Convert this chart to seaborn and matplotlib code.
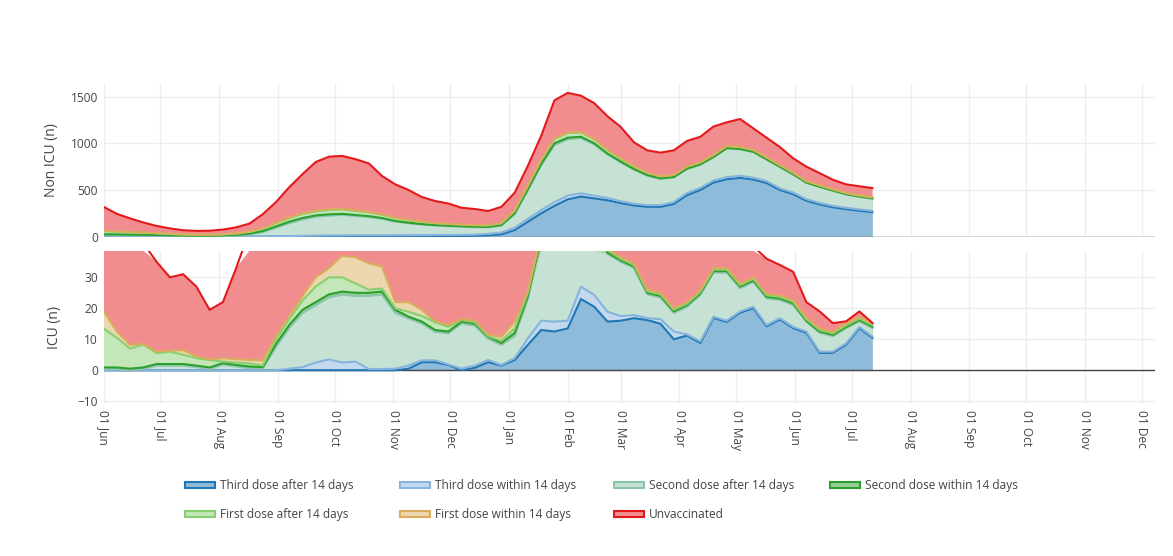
import numpy as np
import pandas as pd
import seaborn as sns
import matplotlib
matplotlib.use("Agg")
from matplotlib import pyplot as plt
from matplotlib import dates as mdates
from matplotlib.patches import Patch
from matplotlib.colors import to_rgb

# weekly readings, 01 Jun 2021 -> 12 Jul 2022
dates = pd.date_range("2021-06-01", periods=59, freq="7D")

# Non ICU (n), one value per layer of the stack
nonicu_third_after = [0] * 13 + [1, 1, 1, 1] + [2, 2, 3, 3, 3, 4, 4, 5, 6, 7, 8, 10] + [
    15, 25, 70, 160, 250, 330, 400, 430, 410, 390, 360, 335, 320, 320, 350, 445, 500, 580,
    615, 630, 612, 575, 500, 455, 385, 346, 315, 295, 278, 262]
nonicu_third_within = [0] * 13 + [3, 5, 8, 10] + [12] * 12 + [
    15, 20, 25, 30, 35, 40, 40, 35, 30, 25, 20, 18, 18, 18, 20, 22, 22, 22, 22, 22,
    20, 20, 18, 18, 16, 16, 15, 15, 14, 14]
nonicu_second_after = [
    22, 21, 19, 17, 16, 13, 10, 8, 8, 11, 16, 26, 50,
    92, 138, 175, 202, 211, 219, 207, 196, 177, 145, 128, 112, 102, 94, 87, 80,
    70, 74, 145, 306, 477, 612, 604, 591, 548, 465, 416, 364, 315, 281, 264, 257, 247, 247,
    307, 282, 273, 230, 227, 192, 175, 170, 161, 141, 134, 130]
nonicu_second_within = [3, 3, 3, 3, 2, 2, 2, 2, 2, 3, 4, 6, 10, 14, 16, 16, 15, 14, 12,
                        10, 9, 8, 7, 6, 6, 5, 5, 5, 5, 5, 6, 10, 14, 18, 18, 16, 14, 12, 10,
                        9, 8, 7, 6, 6, 6, 6, 6, 6, 6, 5, 5, 5, 5, 4, 4, 4, 4, 4, 4]
nonicu_first_after = [34, 28, 25, 21, 18, 14, 10, 9, 9, 10, 12, 18, 25, 34, 37, 42, 43, 46,
                      47, 43, 39, 35, 31, 26, 23, 19, 17, 16, 16, 16, 19, 26, 35, 39, 44, 49,
                      45, 41, 36, 32, 27, 23, 20, 20, 20, 20, 20, 20, 20, 18, 18, 16, 15, 14,
                      13, 12, 11, 11, 11]
nonicu_first_within = [4, 4, 3, 3, 2, 2, 2, 1, 1, 2, 3, 4, 5, 6, 8, 8, 9, 9, 8, 7, 6, 5, 4,
                       4, 3, 3, 3, 2, 2, 2, 3, 4, 5, 6, 6, 6, 5, 4, 4, 3, 3, 2, 2, 2, 2, 2,
                       2, 2, 2, 2, 2, 2, 1, 1, 1, 1, 1, 1, 1]
nonicu_unvaccinated = [257, 189, 146, 108, 77, 58, 45, 42, 44, 50, 65, 86, 150, 220, 325,
                       420, 520, 563, 565, 548, 520, 410, 357, 320, 264, 235, 217, 180, 171,
                       152, 173, 190, 210, 255, 410, 425, 390, 385, 360, 335, 255, 240, 253,
                       263, 273, 273, 303, 253, 298, 230, 210, 192, 154, 155, 130, 102, 93,
                       98, 98]

# ICU (n)
icu_third_after = [0] * 23 + [0.5, 2.6, 2.6, 1.7, 0, 0.8, 2.6, 1.5, 3.3, 8.2, 13, 12.5, 13.5,
                              23, 20.5, 15.7, 16, 16.8, 16.2, 15, 10, 11.2, 8.8, 16.9, 15.6,
                              18.6, 20, 14.2, 16.4, 13.6, 12.1, 5.6, 5.6, 8.3, 13.6, 10.4]
icu_third_within = [0] * 14 + [0.5, 1.0, 2.5, 3.5, 2.5, 2.8, 0.4, 0.4, 0.5, 1.0, 0.6, 0.6,
                               0.2, 0.5, 0.7, 0.7, 0.2, 0.6, 2.1, 3, 3.2, 2.5, 4, 3.8, 3.2,
                               1.5, 1.0, 0.6, 1.5, 2.5, 0.4, 0.5, 0.4, 0.4, 0.4, 0.5, 0.4,
                               0.4, 0.4, 0.4, 0.4, 0.4, 0.4, 0.4, 0.4]
icu_second_after = [0.4, 0.4, 0.2, 0.4, 1.5, 1.5, 1.5, 1.0, 0.4, 1.8, 1.2, 0.7, 0.5,
                    7.5, 13.1, 17.5, 18.5, 20, 21.9, 21.2, 23.6, 24, 18,
                    15.2, 11.9, 9.2, 10, 14.6, 12.9, 6.9, 6.5, 7.1, 12.7,
                    26, 38.3, 43, 30, 24.7, 18.6, 17.5, 15.2, 7.7, 7,
                    6, 8.9, 15, 14.2, 15.5, 7.5, 8, 8.6, 5.9, 7.1,
                    3.1, 6.1, 5, 4.9, 1.8, 2.8]
icu_second_within = [0.5, 0.5, 0.3] + [0.5] * 10 + [1.0] * 10 + [0.6] * 8 + [1.0] * 7 + \
    [0.5] * 15 + [0.4] * 6
icu_first_after = [12.6, 9.6, 6.5, 7.4, 3.5, 4.0, 3.0, 2.4, 2.4, 0.5, 0.8, 1.0, 0.5,
                   1.5, 1.9, 3.0, 5.0, 5.5, 4.6, 3.0, 1.0, 1.0, 0.5,
                   1.6, 1.8, 2.5, 1.5, 0.5, 0.5, 0.2, 0.7, 1.5, 1.0,
                   1, 1, 1, 1, 1, 0.8] + [0.5] * 20
icu_first_within = [5.5, 2.0, 1.2, 0.2, 0.5, 0.3, 1.5, 0.6, 0.2, 1.1, 1.1, 1.1, 1.7,
                    1.0, 1.0, 1.5, 3.0, 3.0, 7.0, 8.5, 8.5, 7.1, 2.0,
                    3.1, 2.0, 0.3, 0.6, 0.3, 0.5, 0.5, 1.3, 2.2, 0.5,
                    1, 1, 1, 1, 1, 0.4] + [0.5] * 20
icu_unvaccinated = [29, 33.5, 35.8, 32.5, 29, 23.7, 24.5, 22.5, 16, 18.1, 29.4, 41.7, 46.8,
                    44, 42.5, 41, 40, 42, 38, 38.5, 37.5, 36.5, 43,
                    38, 35.5, 36.2, 35.4, 33.5, 34, 36.5, 39.2, 39.3, 34.5,
                    25, 23, 23, 20, 18,
                    12.8, 13.5, 15.5, 26, 25, 22, 23, 22.2, 17, 12,
                    17, 10, 11.3, 9.8, 9.2, 5, 5.5, 2.8, 0.8, 1.8, 0.2]

labels = ["Third dose after 14 days", "Third dose within 14 days", "Second dose after 14 days",
          "Second dose within 14 days", "First dose after 14 days", "First dose within 14 days",
          "Unvaccinated"]
colors = ["#1f77b4", "#86b4dd", "#8cc5aa", "#2ca02c", "#88cf70", "#d9ad5c", "#e31a1c"]
# half-strength fills on white
fills = [tuple(0.5 * c + 0.5 for c in to_rgb(col)) for col in colors]

nonicu = [nonicu_third_after, nonicu_third_within, nonicu_second_after, nonicu_second_within,
          nonicu_first_after, nonicu_first_within, nonicu_unvaccinated]
icu = [icu_third_after, icu_third_within, icu_second_after, icu_second_within,
       icu_first_after, icu_first_within, icu_unvaccinated]

sns.set_theme(style="white")
plt.rcParams["font.family"] = ["Open Sans", "DejaVu Sans"]
txt = "#444444"

fig = plt.figure(figsize=(11.73, 5.56), dpi=100)
ax1 = fig.add_axes([0.0883, 0.5743, 0.8963, 0.2746])
ax2 = fig.add_axes([0.0883, 0.2734, 0.8963, 0.2757], sharex=ax1)


def draw_stack(ax, series, ylim):
    tops = np.cumsum(np.array(series, dtype=float), axis=0)
    n = len(series)
    # paint from the top layer down, each from zero, so lower layers cover upper ones
    for i in reversed(range(n)):
        ax.fill_between(dates, 0, np.minimum(tops[i], ylim[1]), facecolor=fills[i],
                        edgecolor="none", zorder=2 + (n - i) * 0.1)
    for i in range(n):
        sns.lineplot(x=dates, y=tops[i], color=colors[i], linewidth=1.5, ax=ax,
                     zorder=10 + i, legend=False)
    ax.axhline(0, color=txt, lw=1, zorder=9)
    ax.set_ylim(*ylim)


draw_stack(ax1, nonicu, (0, 1635))
draw_stack(ax2, icu, (-10.9, 38.6))

ax1.set_yticks([0, 500, 1000, 1500])
ax2.set_yticks([-10, 0, 10, 20, 30])
ax2.set_xlim(pd.Timestamp("2021-06-01"), pd.Timestamp("2022-12-08"))
ax2.xaxis.set_major_locator(mdates.MonthLocator())
ax2.xaxis.set_major_formatter(mdates.DateFormatter("%d %b"))

for ax in (ax1, ax2):
    ax.grid(True, color="#eeeeee", lw=1)
    ax.set_axisbelow(True)
    for s in ax.spines.values():
        s.set_visible(False)
    ax.tick_params(length=0, labelsize=8.6, labelcolor=txt, pad=4)
    ax.set_xlabel("")
ax1.tick_params(labelbottom=False)
plt.setp(ax2.get_xticklabels(), rotation=-90, ha="center", va="top")

ax1.set_ylabel("Non ICU (n)", fontsize=10, color=txt)
ax2.set_ylabel("ICU (n)", fontsize=10, color=txt)
ax1.yaxis.set_label_coords(-0.042, 0.5)
ax2.yaxis.set_label_coords(-0.040, 0.5)

# legend: four fixed-width columns, two rows
columns = [[0, 4], [1, 5], [2, 6], [3]]
col_x = [185, 400, 614, 830]
for cx, idx in zip(col_x, columns):
    handles = [Patch(facecolor=fills[i], edgecolor=colors[i], lw=1.5, label=labels[i])
               for i in idx]
    fig.legend(handles=handles, loc="upper left", bbox_to_anchor=(cx / 1173, 1 - 479 / 556),
               frameon=False, fontsize=8.6, labelcolor=txt, handlelength=2.5,
               handleheight=0.45, handletextpad=0.45, borderpad=0, borderaxespad=0,
               labelspacing=1.35)

fig.savefig("out.png", dpi=100)
